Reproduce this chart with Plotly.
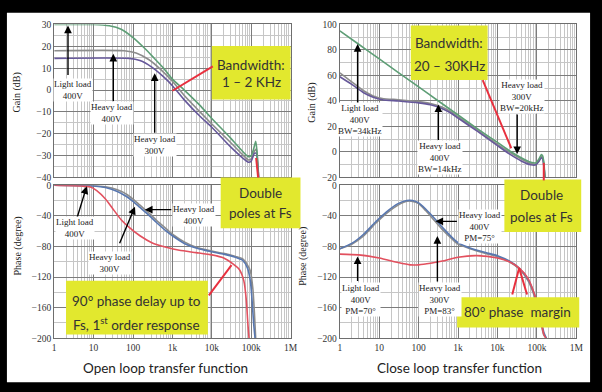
import plotly.graph_objects as go

W, H = 602, 392


def px(x):
    return x / W


def py(y):
    return 1 - y / H


# ---------------- axis ticks ----------------
decades = [1, 10, 100, 1e3, 1e4, 1e5, 1e6]
decade_labels = ["1", "10", "100", "1k", "10k", "100k", "1M"]
minor_freqs = [m * d for d in decades[:-1] for m in range(2, 10)]

# ---------------- open loop gain (dB) ----------------
f_ol_gain_light = [1, 10, 25, 50, 100, 200, 316, 600, 1000, 2000, 5000, 10000,
                   30000, 60000, 85000, 100000, 115000, 130000, 140000, 150000]
g_ol_light = [30, 30, 29.4, 27.8, 24, 19, 15.3, 10, 5, 0, -7, -13,
              -22, -28, -30.5, -30, -27, -23.5, -28, -40]

f_ol_gain_h400 = [1, 60, 120, 250, 500, 1000, 2000, 5000, 10000, 30000, 60000,
                  85000, 100000, 120000, 135000, 145000, 155000]
g_ol_h400 = [18, 18, 17, 14, 9.5, 4, -2.5, -10, -15.5, -24, -29.5,
             -32, -31.5, -28, -27, -32, -40]

f_ol_gain_h300 = [1, 80, 150, 300, 600, 1000, 2000, 5000, 10000, 30000, 60000,
                  85000, 100000, 120000, 135000, 145000, 155000]
g_ol_h300 = [14.5, 14.5, 13.5, 10.5, 6, 2, -4.5, -12, -17, -26, -31,
             -33, -32.5, -29, -29, -34, -40]

# ---------------- close loop gain (dB) ----------------
f_cl_gain_light = [1, 3, 10, 30, 100, 316, 1000, 3000, 10000, 20000, 40000,
                   70000, 95000, 115000, 130000, 140000, 150000, 160000]
g_cl_light = [95, 84.5, 73, 62.5, 51, 40, 29, 18.5, 7.5, 1, -4.5,
              -8, -8.5, -5, -2, -3, -8, -20]

f_cl_gain_heavy = [1, 2, 4, 7, 12, 30, 100, 200, 400, 700, 1000, 3000, 10000,
                   20000, 40000, 70000, 95000, 115000, 130000, 140000, 150000, 160000]
g_cl_h400 = [62, 55, 48, 44, 42, 41, 39.5, 38, 35, 31, 27.5, 17.5, 6,
             0, -5.5, -9, -9.5, -6, -3.5, -4.5, -10, -20]
g_cl_h300 = [59, 53, 46.5, 43, 41, 40, 38.5, 37, 34, 30, 26.5, 16.5, 5,
             -1.5, -7, -10, -10, -7, -4.5, -5.5, -11, -20]

# ---------------- open loop phase (degree) ----------------
f_ol_ph_heavy = [1, 10, 20, 40, 70, 100, 150, 250, 400, 700, 1000, 2000, 4000,
                 10000, 20000, 40000, 60000, 80000, 95000, 105000, 115000, 125000]
p_ol_h400 = [0, -1, -3, -8, -15, -21, -29, -39, -49, -60, -66, -76, -82,
             -87, -90, -94, -98, -108, -125, -150, -180, -200]
f_ol_ph_h300 = [1, 10, 20, 40, 70, 100, 150, 250, 400, 700, 1000, 2000, 4000,
                10000, 20000, 40000, 60000, 80000, 95000, 110000, 120000, 130000]
p_ol_h300 = [0, -0.5, -2, -6, -12, -18, -26, -36, -46, -57, -64, -74, -81,
             -86, -89, -93, -96, -104, -112, -135, -165, -200]
f_ol_ph_light = [1, 5, 8, 12, 20, 30, 50, 80, 150, 300, 700, 1500, 4000, 10000,
                 20000, 35000, 50000, 65000, 75000, 82000, 88000]
p_ol_light = [0, -1, -2, -7, -18, -30, -45, -55, -66, -75, -81, -85, -88, -91,
              -95, -103, -110, -125, -150, -180, -200]

# ---------------- close loop phase (degree) ----------------
f_cl_ph_heavy = [1, 2, 4, 8, 15, 30, 50, 70, 100, 150, 250, 400, 700, 1000, 2000,
                 5000, 10000, 20000, 35000, 60000, 90000, 120000, 150000, 175000]
p_cl_h400 = [-83, -76, -64, -48, -35, -24, -20, -20, -23, -31, -43, -55, -68, -75,
             -82, -88, -92, -99, -108, -123, -145, -170, -192, -200]
p_cl_h300 = [-83, -77, -66, -50, -37, -26, -21, -21, -24, -33, -46, -58, -70, -77,
             -83, -89, -93, -100, -109, -125, -148, -174, -196, -200]
f_cl_ph_light = [1, 3, 10, 30, 60, 100, 200, 400, 1000, 3000, 10000, 20000,
                 35000, 60000, 90000, 120000, 150000, 170000]
p_cl_light = [-90, -91, -95, -101, -104, -104, -102, -99, -94, -92, -95, -100,
              -108, -122, -145, -170, -195, -200]

GREEN = "#5e9e76"
GRAY = "#8c8c8c"
PURPLE = "#66589a"
BLUE = "#5877b0"
RED = "#e2505e"
MAJOR = "#7c7c7c"
MINOR = "#c6c6c6"
FRAME = "#6e6e6e"
YELLOW = "#e2e82e"

fig = go.Figure()


def add_curve(f, v, color, xa, ya):
    fig.add_trace(go.Scatter(
        x=f, y=v, mode="lines", xaxis=xa, yaxis=ya, hoverinfo="skip",
        line=dict(color=color, width=1.6, shape="spline", smoothing=0.6),
    ))


# open loop gain
add_curve(f_ol_gain_h400, g_ol_h400, GRAY, "x", "y")
add_curve(f_ol_gain_h300, g_ol_h300, PURPLE, "x", "y")
add_curve(f_ol_gain_light, g_ol_light, GREEN, "x", "y")
# close loop gain
add_curve(f_cl_gain_heavy, g_cl_h400, GRAY, "x2", "y2")
add_curve(f_cl_gain_heavy, g_cl_h300, PURPLE, "x2", "y2")
add_curve(f_cl_gain_light, g_cl_light, GREEN, "x2", "y2")
# open loop phase
add_curve(f_ol_ph_h300, p_ol_h300, GRAY, "x3", "y3")
add_curve(f_ol_ph_heavy, p_ol_h400, BLUE, "x3", "y3")
add_curve(f_ol_ph_light, p_ol_light, RED, "x3", "y3")
# close loop phase
add_curve(f_cl_ph_heavy, p_cl_h300, GRAY, "x4", "y4")
add_curve(f_cl_ph_heavy, p_cl_h400, BLUE, "x4", "y4")
add_curve(f_cl_ph_light, p_cl_light, RED, "x4", "y4")

TICKFONT = dict(family="Liberation Serif", size=9.5, color="#333333")


def xaxis(domain, anchor, labels):
    return dict(
        type="log", range=[0, 6], domain=domain, anchor=anchor,
        tickmode="array", tickvals=decades, ticktext=decade_labels,
        showticklabels=labels, ticks="", tickfont=TICKFONT,
        showgrid=True, gridcolor=MAJOR, gridwidth=1.4,
        minor=dict(tickmode="array", tickvals=minor_freqs, showgrid=True,
                   gridcolor=MINOR, gridwidth=1, ticks=""),
        showline=True, mirror=True, linecolor=FRAME, linewidth=1.2,
        zeroline=False, fixedrange=True,
    )


def yaxis(domain, anchor, rng, dtick, minor_dtick):
    return dict(
        range=rng, domain=domain, anchor=anchor, dtick=dtick, tick0=0,
        ticks="", tickfont=TICKFONT,
        showgrid=True, gridcolor=MAJOR, gridwidth=1.4,
        minor=dict(dtick=minor_dtick, showgrid=True, gridcolor=MINOR,
                   gridwidth=1, ticks=""),
        showline=True, mirror=True, linecolor=FRAME, linewidth=1.2,
        zeroline=False, fixedrange=True,
    )


left_x = [px(53), px(293)]
right_x = [px(343), px(583)]
top_y = [py(177), py(20)]
bot_y = [py(342), py(185)]

fig.update_layout(
    width=W, height=H, margin=dict(l=0, r=0, t=0, b=0),
    paper_bgcolor="black", plot_bgcolor="white", showlegend=False,
    xaxis=xaxis(left_x, "y", False),
    yaxis=yaxis(top_y, "x", [-40, 30], 10, 5),
    xaxis2=xaxis(right_x, "y2", False),
    yaxis2=yaxis(top_y, "x2", [-20, 100], 20, 10),
    xaxis3=xaxis(left_x, "y3", True),
    yaxis3=yaxis(bot_y, "x3", [-200, 0], 40, 20),
    xaxis4=xaxis(right_x, "y4", True),
    yaxis4=yaxis(bot_y, "x4", [-200, 0], 40, 20),
)

shapes = []
# white page inside the black frame
shapes.append(dict(type="rect", xref="paper", yref="paper", layer="below",
                   x0=px(5), x1=px(597), y0=py(387), y1=py(8),
                   fillcolor="white", line=dict(width=0)))

# yellow call-out boxes
boxes = [
    (213, 42, 293, 97),
    (415, 21, 493, 77),
    (222, 177, 303, 229),
    (510, 179, 588, 233),
    (65, 283, 209, 338),
    (462, 300, 586, 331),
]
for x0, y0, x1, y1 in boxes:
    shapes.append(dict(type="rect", xref="paper", yref="paper", layer="above",
                       x0=px(x0), x1=px(x1), y0=py(y1), y1=py(y0),
                       fillcolor=YELLOW, line=dict(width=0)))

# red pointer lines
red_lines = [
    (214, 63, 173, 88),
    (488, 77, 517, 147),
    (260, 177, 258, 157),
    (550, 180, 550, 162),
    (210, 298, 233, 267),
    (518, 297, 525, 270),
    (533, 297, 525, 270),
]
for x0, y0, x1, y1 in red_lines:
    shapes.append(dict(type="line", xref="paper", yref="paper", layer="above",
                       x0=px(x0), y0=py(y0), x1=px(x1), y1=py(y1),
                       line=dict(color="#e8303e", width=2)))

fig.update_layout(shapes=shapes)

ann = []


def text(x, y, s, size, family, color="#222222", angle=0, bg=None):
    d = dict(x=px(x), y=py(y), xref="paper", yref="paper", text=s,
             showarrow=False, xanchor="center", yanchor="middle",
             textangle=angle, font=dict(family=family, size=size, color=color))
    if bg:
        d.update(bgcolor=bg, borderpad=0)
    ann.append(d)


def arrow(hx, hy, tx, ty):
    ann.append(dict(x=px(hx), y=py(hy), xref="paper", yref="paper", text="",
                    showarrow=True, ax=tx - hx, ay=ty - hy,
                    axref="pixel", ayref="pixel", arrowhead=2, arrowsize=1.1,
                    arrowwidth=1.4, arrowcolor="black"))


SERIF = "Liberation Serif"
SANS = "Lato"

# load labels with arrows
labels = [
    ((67, 21, 67, 72), (72, 87), "Light load<br>400V"),
    ((113, 50, 113, 99), (112, 111), "Heavy load<br>400V"),
    ((155, 70, 155, 131), (155, 144), "Heavy load<br>300V"),
    ((361, 40, 361, 102), (363, 118), "Light load<br>400V<br>BW=34kHz"),
    ((443, 102, 443, 139), (445, 157), "Heavy load<br>400V<br>BW=14kHz"),
    ((523, 153, 523, 112), (528, 94), "Heavy load<br>300V<br>BW=20kHz"),
    ((86, 186, 75, 222), (74, 229), "Light load<br>400V"),
    ((145, 210, 173, 210), (195, 215), "Heavy load<br>400V"),
    ((135, 207, 119, 245), (110, 265), "Heavy load<br>300V"),
    ((440, 222, 463, 222), (485, 227), "Heavy load<br>400V<br>PM=75°"),
    ((361, 258, 361, 284), (364, 302), "Light load<br>400V<br>PM=70°"),
    ((442, 237, 442, 284), (445, 302), "Heavy load<br>300V<br>PM=83°"),
]
for (hx, hy, tx, ty), (lx, ly), s in labels:
    arrow(hx, hy, tx, ty)
    text(lx, ly, s, 9, SERIF, bg="white")

# call-out box texts, one annotation per line
box_lines = [
    (253, 62, "Bandwidth:"), (253, 79, "1 – 2 KHz"),
    (454, 39, "Bandwidth:"), (454, 63, "20 – 30KHz"),
    (262, 193, "Double"), (262, 213, "poles at Fs"),
    (548, 195, "Double"), (548, 218, "poles at Fs"),
    (137, 304, "90° phase delay up to"), (137, 327, "Fs, 1<sup>st</sup> order response"),
    (523, 315, "80° phase  margin"),
]
for x, y, s in box_lines:
    text(x, y, s, 13.5, SANS, color="#333333")

# axis titles
text(15, 90, "Gain (dB)", 10, SERIF, angle=-90)
text(315, 100, "Gain (dB)", 10, SERIF, angle=-90)
text(16, 247, "Phase (degree)", 10, SERIF, angle=-90)
text(306, 258, "Phase (degree)", 10, SERIF, angle=-90)
text(166, 372, "Open loop transfer function", 13.5, SANS, color="#222222")
text(464, 372, "Close loop transfer function", 13.5, SANS, color="#222222")

fig.update_layout(annotations=ann)

fig.write_html("out.html")
